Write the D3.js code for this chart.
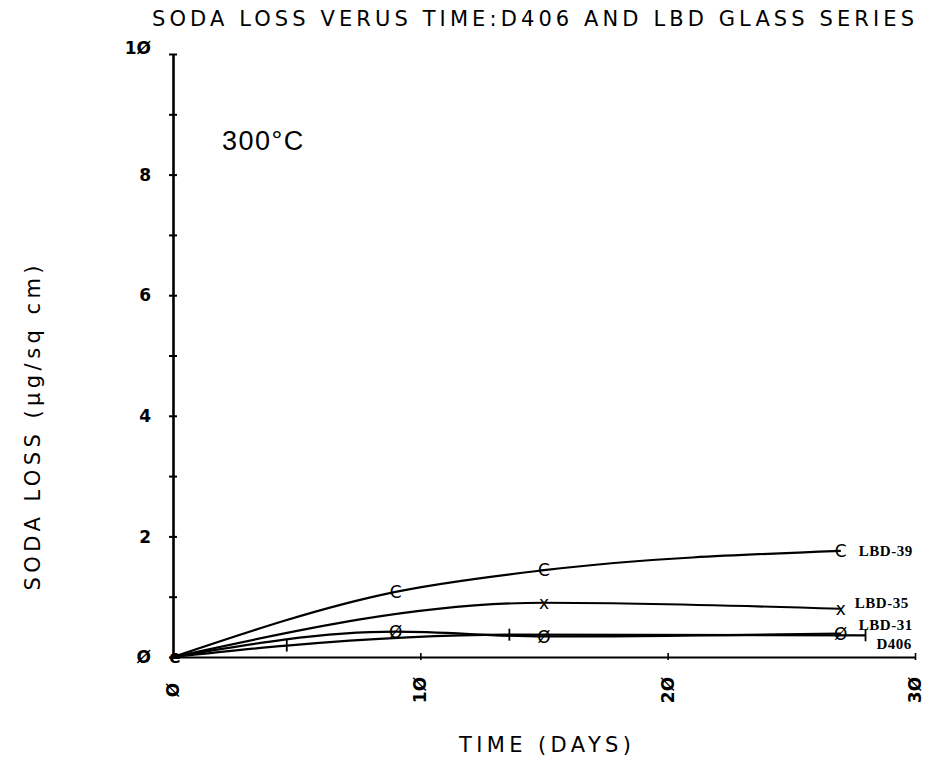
<!DOCTYPE html>
<html>
<head>
<meta charset="utf-8">
<script src="https://cdn.jsdelivr.net/npm/d3@7"></script>
<style>
  body { margin: 0; background: #fff; }
  svg { display: block; }
  .plotter { font-family: "DejaVu Sans", sans-serif; fill: #000; }
</style>
</head>
<body>
<div id="chart"></div>
<script>
// values (days, µg/sq cm)
var seriesNames = ["LBD-39", "LBD-35", "LBD-31", "D406"];
var seriesMarks = ["C", "x", "Ø", "+"];
var lbd39Days = [0, 9, 15, 27],    lbd39Loss = [0, 1.08, 1.44, 1.76];
var lbd35Days = [0, 15, 27],       lbd35Loss = [0, 0.9, 0.8];
var lbd31Days = [0, 9, 15, 27],    lbd31Loss = [0, 0.42, 0.34, 0.39];
var d406Days  = [0, 4.6, 13.6, 28], d406Loss = [0, 0.19, 0.37, 0.36];
var xTicks = [0, 10, 20, 30];
var yTicks = [0, 2, 4, 6, 8, 10];
var yMinor = [0, 1, 2, 3, 4, 5, 6, 7, 8, 9, 10];

var chartWidth = 930, chartHeight = 758;
var margin = {top: 54, right: 15, bottom: 101, left: 173},
    width  = chartWidth - margin.left - margin.right,
    height = chartHeight - margin.top - margin.bottom;

// the plotter drew zeros slashed
function plotterNum(d) { return String(d).replace(/0/g, "Ø"); }

var x = d3.scaleLinear().domain([0, 30]).range([0, width]);
var y = d3.scaleLinear().domain([0, 10]).range([height, 0]);

var series = [
  {days: lbd39Days, loss: lbd39Loss},
  {days: lbd35Days, loss: lbd35Loss},
  {days: lbd31Days, loss: lbd31Loss},
  {days: d406Days,  loss: d406Loss}
].map(function(s, i) {
  return {
    name: seriesNames[i],
    mark: seriesMarks[i],
    pts: s.days.map(function(d, j) { return {day: d, loss: s.loss[j]}; })
  };
});

var svg = d3.select("#chart").append("svg")
    .attr("width", chartWidth)
    .attr("height", chartHeight);

svg.append("text")
    .attr("class", "plotter")
    .attr("x", 152).attr("y", 26)
    .attr("font-size", 21)
    .attr("textLength", 762).attr("lengthAdjust", "spacing")
    .text("SODA LOSS VERUS TIME:D406 AND LBD GLASS SERIES");

var g = svg.append("g")
    .attr("transform", "translate(" + margin.left + "," + margin.top + ")");

// y axis: line with crossing ticks every unit, labels on even values
var yAxis = g.append("g")
    .call(d3.axisLeft(y).tickValues(yMinor).tickSize(0).tickFormat(""));
yAxis.select(".domain").attr("stroke", "#000").attr("stroke-width", 2.6);
yAxis.selectAll(".tick line").attr("x1", -4).attr("x2", 4)
    .attr("stroke", "#000").attr("stroke-width", 2);

g.selectAll(".ylab").data(yTicks).enter().append("text")
    .attr("class", "plotter ylab")
    .attr("x", -22)
    .attr("y", function(d) { return y(d) + (d === 10 ? -6 : 0); })
    .attr("dy", "0.36em")
    .attr("text-anchor", "end")
    .attr("font-size", 17)
    .attr("font-weight", "bold")
    .text(plotterNum);

// x axis
var xAxis = g.append("g")
    .attr("transform", "translate(0," + height + ")")
    .call(d3.axisBottom(x).tickValues(xTicks.slice(1)).tickSize(0).tickFormat(""));
xAxis.select(".domain").attr("stroke", "#000").attr("stroke-width", 2);
xAxis.selectAll(".tick line").attr("y1", -4).attr("y2", 3)
    .attr("stroke", "#000").attr("stroke-width", 1.6);

g.selectAll(".xlab").data(xTicks).enter().append("text")
    .attr("class", "plotter xlab")
    .attr("transform", function(d) {
      return "translate(" + (x(d) + 6) + "," + (height + 33) + ") rotate(-90)";
    })
    .attr("text-anchor", "middle")
    .attr("font-size", 17)
    .attr("font-weight", "bold")
    .text(plotterNum);

// data lines
var line = d3.line()
    .curve(d3.curveMonotoneX)
    .x(function(d) { return x(d.day); })
    .y(function(d) { return y(d.loss); });

g.selectAll(".series").data(series).enter().append("path")
    .attr("class", "series")
    .attr("d", function(s) { return line(s.pts); })
    .attr("fill", "none")
    .attr("stroke", "#000")
    .attr("stroke-width", 2.2);

// point marks (skip the shared origin, drawn once below)
series.forEach(function(s) {
  var pts = s.pts.slice(1);
  if (s.mark === "+") {
    g.selectAll(null).data(pts).enter().append("line")
        .attr("x1", function(d) { return x(d.day); })
        .attr("x2", function(d) { return x(d.day); })
        .attr("y1", function(d) { return y(d.loss) - 6; })
        .attr("y2", function(d) { return y(d.loss) + 6; })
        .attr("stroke", "#000").attr("stroke-width", 1.8);
  } else {
    g.selectAll(null).data(pts).enter().append("text")
        .attr("class", "plotter")
        .attr("x", function(d) { return x(d.day); })
        .attr("y", function(d) { return y(d.loss); })
        .attr("dy", "0.36em")
        .attr("text-anchor", "middle")
        .attr("font-size", 17)
        .text(s.mark);
  }
});

g.append("text")
    .attr("class", "plotter")
    .attr("x", x(0) + 2).attr("y", y(0))
    .attr("dy", "0.36em")
    .attr("text-anchor", "middle")
    .attr("font-size", 17)
    .attr("font-weight", "bold")
    .text("e");

// series labels next to the last point
var labelShift = {"LBD-39": [18, 0], "LBD-35": [14, -6], "LBD-31": [18, -9], "D406": [11, 8]};
g.selectAll(".slab").data(series).enter().append("text")
    .attr("class", "slab")
    .attr("x", function(s) { var p = s.pts[s.pts.length - 1]; return x(p.day) + labelShift[s.name][0]; })
    .attr("y", function(s) { var p = s.pts[s.pts.length - 1]; return y(p.loss) + labelShift[s.name][1]; })
    .attr("dy", "0.36em")
    .attr("font-family", "Liberation Serif, serif")
    .attr("font-weight", "bold")
    .attr("font-size", 15)
    .attr("letter-spacing", 0.5)
    .text(function(s) { return s.name; });

g.append("text")
    .attr("x", 49).attr("y", 96)
    .attr("font-family", "Liberation Sans, Arial, sans-serif")
    .attr("font-size", 27)
    .attr("letter-spacing", 1.5)
    .text("300°C");

// axis titles
svg.append("text")
    .attr("class", "plotter")
    .attr("transform", "translate(40,428) rotate(-90)")
    .attr("text-anchor", "middle")
    .attr("font-size", 21)
    .attr("textLength", 325).attr("lengthAdjust", "spacing")
    .text("SODA LOSS (µg/sq cm)");

svg.append("text")
    .attr("class", "plotter")
    .attr("x", 545).attr("y", 752)
    .attr("text-anchor", "middle")
    .attr("font-size", 21)
    .attr("textLength", 172).attr("lengthAdjust", "spacing")
    .text("TIME (DAYS)");
</script>
</body>
</html>
